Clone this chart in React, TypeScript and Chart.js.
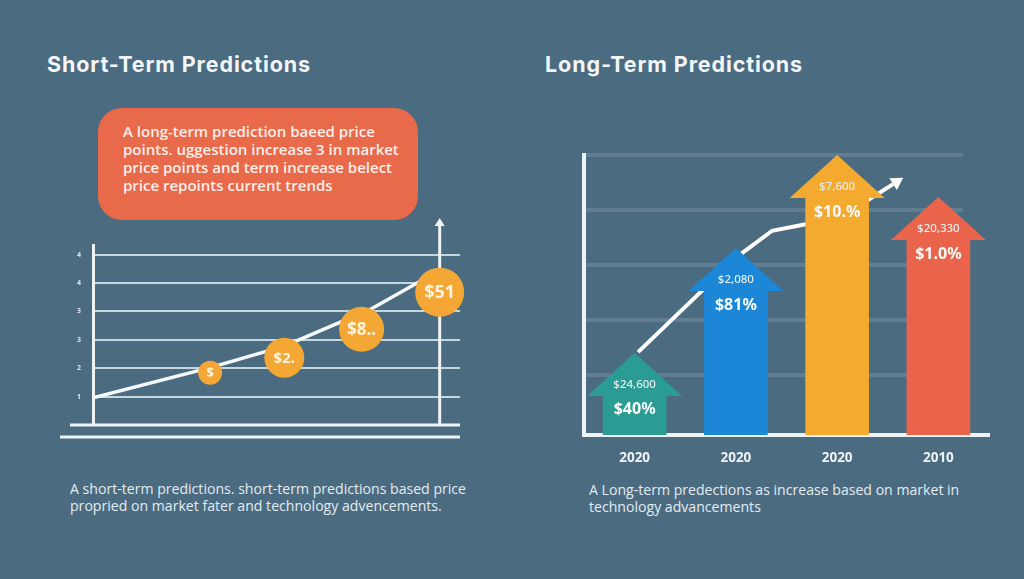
import React, { useEffect, useRef } from "react";
import { Chart, registerables } from "chart.js";

Chart.register(...registerables);

// ---------- text ----------
const shortTitle = "Short-Term Predictions";
const longTitle = "Long-Term Predictions";
const calloutLines = [
  "A long-term prediction baeed price",
  "points. uggestion increase 3 in market",
  "price points and term increase belect",
  "price repoints current trends",
];
const shortCaption = [
  "A short-term predictions. short-term predictions based price",
  "propried on market fater and technology advencements.",
];
const longCaption = [
  "A Long-term predections as increase based on market in",
  "technology advancements",
];

// ---------- short-term chart data ----------
const shortTickLabels = ["1", "2", "3", "3", "4", "4"]; // for y = 1..6
const shortLineX = [0, 1.5, 2.45, 3.55, 4.44];
const shortLineY = [0.96, 2.02, 2.78, 4.07, 5.45];
const coinX = [1.5, 2.45, 3.44, 4.44];
const coinY = [1.84, 2.37, 3.37, 4.68];
const coinLabels = ["$", "$2.", "$8..", "$51"];

// ---------- long-term chart data ----------
const longYears = ["2020", "2020", "2020", "2010"];
const longValues = [0.63, 2.54, 4.235, 3.47];
const longAmountLabels = ["$24,600", "$2,080", "$7,600", "$20,330"];
const longPercentLabels = ["$40%", "$81%", "$10.%", "$1.0%"];
const trendX = [0.034, 1.022, 1.358, 1.802, 2.287, 2.553];
const trendY = [1.41, 3.16, 3.62, 3.78, 4.16, 4.47];

// ---------- styles ----------
const BG = "#4b6b81";
const WHITE = "#eef3f6";
const GRID_L = "#c6d6e1";
const GRID_R = "#617d92";
const COIN = "#f4a734";
const COIN_TEXT = "#fff4e2";
const coinRadius = [12, 20, 22.5, 24.5];
const coinFont = [13, 15, 17, 18];
const BAR_COLORS = ["#2b9c94", "#1c87d6", "#f4a92f", "#e9644a"];
const HEAD_HEIGHT = 42;
const HEAD_OVERHANG = 16;
const FONT = "'Noto Sans', 'Open Sans', sans-serif";

Chart.defaults.font.family = FONT;

const shortDecor = {
  id: "shortDecor",
  beforeDatasetsDraw(chart: any) {
    const { ctx, chartArea, scales } = chart;
    const xs = scales.x;
    const ys = scales.y;
    const base = ys.getPixelForValue(0);
    ctx.save();
    ctx.strokeStyle = WHITE;
    ctx.fillStyle = WHITE;
    ctx.lineWidth = 3;
    ctx.beginPath();
    ctx.moveTo(chartArea.left - 23, base);
    ctx.lineTo(chartArea.right, base);
    ctx.stroke();
    ctx.beginPath();
    ctx.moveTo(chartArea.left - 33, base + 12);
    ctx.lineTo(chartArea.right, base + 12);
    ctx.stroke();
    const vx = xs.getPixelForValue(coinX[coinX.length - 1]);
    ctx.beginPath();
    ctx.moveTo(vx, base);
    ctx.lineTo(vx, chartArea.top - 20);
    ctx.stroke();
    ctx.beginPath();
    ctx.moveTo(vx, chartArea.top - 27);
    ctx.lineTo(vx + 5, chartArea.top - 19);
    ctx.lineTo(vx - 5, chartArea.top - 19);
    ctx.closePath();
    ctx.fill();
    ctx.restore();
  },
  afterDatasetsDraw(chart: any) {
    const { ctx } = chart;
    const meta = chart.getDatasetMeta(0);
    ctx.save();
    ctx.fillStyle = COIN_TEXT;
    ctx.textAlign = "center";
    ctx.textBaseline = "middle";
    meta.data.forEach((pt: any, i: number) => {
      ctx.font = `bold ${coinFont[i]}px ${FONT}`;
      ctx.fillText(coinLabels[i], pt.x, pt.y + 1);
    });
    ctx.restore();
  },
};

const longDecor = {
  id: "longDecor",
  beforeDatasetsDraw(chart: any) {
    const { ctx, chartArea, scales } = chart;
    const ys = scales.y;
    ctx.save();
    ctx.strokeStyle = GRID_R;
    ctx.lineWidth = 4;
    ys.ticks.forEach((t: any) => {
      if (Number.isInteger(t.value) && t.value >= 1) {
        const py = Math.round(ys.getPixelForValue(t.value));
        ctx.beginPath();
        ctx.moveTo(chartArea.left + 2, py);
        ctx.lineTo(chartArea.right - 26, py);
        ctx.stroke();
      }
    });
    ctx.restore();
  },
  afterDatasetsDraw(chart: any) {
    const { ctx } = chart;
    const meta = chart.getDatasetMeta(0);
    ctx.save();
    meta.data.forEach((bar: any, i: number) => {
      const { x, y, width } = bar.getProps(["x", "y", "width"], true);
      ctx.fillStyle = BAR_COLORS[i];
      ctx.beginPath();
      ctx.moveTo(x - width / 2 - HEAD_OVERHANG, y + 1);
      ctx.lineTo(x + width / 2 + HEAD_OVERHANG, y + 1);
      ctx.lineTo(x, y - HEAD_HEIGHT);
      ctx.closePath();
      ctx.fill();
      ctx.textAlign = "center";
      ctx.textBaseline = "middle";
      ctx.fillStyle = "#e4eef0";
      ctx.font = `500 11.5px ${FONT}`;
      ctx.fillText(longAmountLabels[i], x, y - 10);
      ctx.fillStyle = "#f7fafb";
      ctx.font = `bold 16px ${FONT}`;
      ctx.fillText(longPercentLabels[i], x, y + 15);
    });
    // arrowhead at the end of the trend line
    const lm = chart.getDatasetMeta(1);
    const pts = lm.data;
    const a = pts[pts.length - 2];
    const b = pts[pts.length - 1];
    const ang = Math.atan2(b.y - a.y, b.x - a.x);
    const dx = Math.cos(ang);
    const dy = Math.sin(ang);
    ctx.fillStyle = "#ffffff";
    ctx.beginPath();
    ctx.moveTo(b.x + dx * 12, b.y + dy * 12);
    ctx.lineTo(b.x - dy * 7, b.y + dx * 7);
    ctx.lineTo(b.x + dy * 7, b.y - dx * 7);
    ctx.closePath();
    ctx.fill();
    ctx.restore();
  },
};

function ShortChart() {
  const ref = useRef<HTMLCanvasElement | null>(null);
  useEffect(() => {
    if (!ref.current) return;
    const chart = new Chart(ref.current, {
      type: "scatter",
      data: {
        datasets: [
          {
            type: "scatter",
            data: coinX.map((x, i) => ({ x, y: coinY[i] })),
            pointRadius: coinRadius,
            pointHoverRadius: coinRadius,
            backgroundColor: COIN,
            borderWidth: 0,
            clip: false,
            order: 0,
          } as any,
          {
            type: "line",
            data: shortLineX.map((x, i) => ({ x, y: shortLineY[i] })),
            borderColor: "#f6f9fb",
            borderWidth: 3.5,
            pointRadius: 0,
            showLine: true,
            tension: 0,
            fill: false,
            order: 1,
          } as any,
        ],
      },
      options: {
        animation: false,
        responsive: false,
        maintainAspectRatio: false,
        events: [],
        layout: { autoPadding: false, padding: { left: 63, right: 20, top: 45, bottom: 25 } },
        plugins: { legend: { display: false }, tooltip: { enabled: false } },
        scales: {
          x: { type: "linear", min: 0, max: 4.7, display: false },
          y: {
            type: "linear",
            min: 0,
            max: 6.34,
            afterFit: (s: any) => {
              s.width = 30;
            },
            ticks: {
              stepSize: 1,
              padding: 12,
              color: "#dbe5ec",
              font: { size: 7, weight: "bold" },
              callback: (v: any) =>
                Number.isInteger(v) && v >= 1 ? shortTickLabels[v - 1] : "",
            },
            grid: {
              color: (c: any) =>
                c.tick && Number.isInteger(c.tick.value) && c.tick.value >= 1
                  ? GRID_L
                  : "rgba(0,0,0,0)",
              lineWidth: 2,
              drawTicks: false,
            },
            border: { display: true, color: WHITE, width: 3 },
          },
        },
      } as any,
      plugins: [shortDecor],
    });
    return () => chart.destroy();
  }, []);
  return (
    <canvas
      ref={ref}
      width={480}
      height={250}
      style={{ position: "absolute", left: 0, top: 200, width: 480, height: 250 }}
    />
  );
}

function LongChart() {
  const ref = useRef<HTMLCanvasElement | null>(null);
  useEffect(() => {
    if (!ref.current) return;
    const chart = new Chart(ref.current, {
      type: "bar",
      data: {
        labels: longYears,
        datasets: [
          {
            type: "bar",
            data: longValues,
            backgroundColor: BAR_COLORS,
            barThickness: 63,
            grouped: false,
            base: -0.1,
            borderWidth: 0,
            order: 0,
          } as any,
          {
            type: "line",
            data: trendX.map((x, i) => ({ x, y: trendY[i] })),
            xAxisID: "x2",
            borderColor: "#ffffff",
            borderWidth: 4,
            pointRadius: 0,
            tension: 0,
            fill: false,
            order: 1,
          } as any,
        ],
      },
      options: {
        animation: false,
        responsive: false,
        maintainAspectRatio: false,
        events: [],
        layout: { autoPadding: false, padding: { left: 24, right: 35, top: 25, bottom: 5 } },
        plugins: { legend: { display: false }, tooltip: { enabled: false } },
        scales: {
          x: {
            type: "category",
            offset: true,
            afterFit: (s: any) => {
              s.height = 40;
            },
            grid: { display: false, drawTicks: false },
            border: { display: true, color: WHITE, width: 4 },
            ticks: {
              color: "#eef3f6",
              padding: 15,
              font: { size: 13.5, weight: "bold" },
            },
          },
          x2: { type: "linear", min: -0.5, max: 3.5, offset: false, display: false },
          y: {
            type: "linear",
            min: -0.1,
            max: 5,
            afterFit: (s: any) => {
              s.width = 0;
            },
            ticks: { display: false, stepSize: 1 },
            grid: { display: false, drawTicks: false },
            border: { display: true, color: WHITE, width: 4 },
          },
        },
      } as any,
      plugins: [longDecor],
    });
    return () => chart.destroy();
  }, []);
  return (
    <canvas
      ref={ref}
      width={464}
      height={350}
      style={{ position: "absolute", left: 560, top: 130, width: 464, height: 350 }}
    />
  );
}

export default function App() {
  const title: React.CSSProperties = {
    position: "absolute",
    top: 54,
    fontFamily: "Inter, 'Noto Sans', sans-serif",
    fontWeight: 700,
    fontSize: 21.5,
    letterSpacing: "0.9px",
    lineHeight: "21px",
    color: "#f3f6f8",
    whiteSpace: "nowrap",
  };
  const caption: React.CSSProperties = {
    position: "absolute",
    top: 480,
    fontFamily: "'Open Sans', 'Noto Sans', sans-serif",
    fontWeight: 400,
    fontSize: 14.1,
    lineHeight: "17px",
    color: "#e3ebf0",
    whiteSpace: "nowrap",
  };
  return (
    <div
      style={{
        position: "fixed",
        left: 0,
        top: 0,
        width: 1024,
        height: 579,
        overflow: "hidden",
        background: BG,
      }}
    >
      <div style={{ ...title, left: 47 }}>{shortTitle}</div>
      <div style={{ ...title, left: 545 }}>{longTitle}</div>
      <div
        style={{
          position: "absolute",
          left: 98,
          top: 108,
          width: 320,
          height: 112,
          borderRadius: 24,
          background: "#e9694b",
          boxSizing: "border-box",
          padding: "14px 0 0 25px",
          fontFamily: "'Open Sans', 'Noto Sans', sans-serif",
          fontWeight: 600,
          fontSize: 15,
          lineHeight: "18px",
          color: "#fcefe9",
          whiteSpace: "nowrap",
        }}
      >
        {calloutLines.map((l, i) => (
          <div key={i}>{l}</div>
        ))}
      </div>
      <ShortChart />
      <LongChart />
      <div style={{ ...caption, left: 70 }}>
        {shortCaption.map((l, i) => (
          <div key={i}>{l}</div>
        ))}
      </div>
      <div style={{ ...caption, left: 589, top: 481 }}>
        {longCaption.map((l, i) => (
          <div key={i}>{l}</div>
        ))}
      </div>
    </div>
  );
}
